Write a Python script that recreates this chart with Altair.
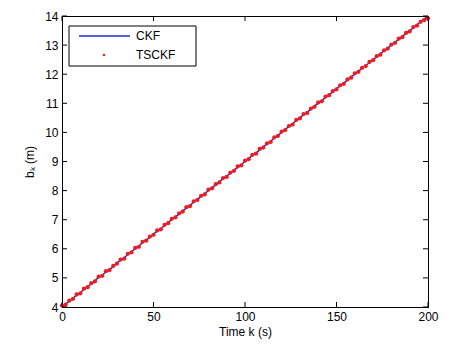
import altair as alt
import pandas as pd

k = list(range(0, 201, 2))
ckf = [4.02, 4.11, 4.19, 4.31, 4.40, 4.49, 4.61, 4.70, 4.79, 4.91,
       5.01, 5.09, 5.21, 5.30, 5.38, 5.52, 5.60, 5.69, 5.81, 5.90,
       6.01, 6.09, 6.22, 6.30, 6.39, 6.51, 6.61, 6.69, 6.80, 6.91,
       7.00, 7.11, 7.19, 7.31, 7.40, 7.49, 7.61, 7.70, 7.80, 7.89,
       8.01, 8.11, 8.19, 8.30, 8.41, 8.50, 8.59, 8.71, 8.80, 8.89,
       9.01, 9.10, 9.21, 9.29, 9.40, 9.51, 9.60, 9.69, 9.81, 9.90,
       10.00, 10.11, 10.20, 10.29, 10.41, 10.50, 10.61, 10.69, 10.80, 10.91,
       11.00, 11.09, 11.21, 11.30, 11.39, 11.51, 11.60, 11.70, 11.79, 11.91,
       12.00, 12.10, 12.21, 12.29, 12.40, 12.50, 12.59, 12.71, 12.80, 12.89,
       13.01, 13.10, 13.20, 13.29, 13.41, 13.50, 13.59, 13.70, 13.81, 13.90,
       14.00]
tsckf = [4.05, 4.08, 4.22, 4.28, 4.43, 4.47, 4.63, 4.68, 4.82, 4.88,
         5.04, 5.07, 5.23, 5.27, 5.41, 5.49, 5.63, 5.66, 5.83, 5.88,
         6.03, 6.07, 6.24, 6.28, 6.42, 6.48, 6.63, 6.67, 6.82, 6.88,
         7.03, 7.08, 7.22, 7.28, 7.43, 7.47, 7.63, 7.68, 7.82, 7.87,
         8.03, 8.08, 8.22, 8.28, 8.43, 8.47, 8.62, 8.68, 8.83, 8.87,
         9.03, 9.08, 9.23, 9.27, 9.43, 9.48, 9.62, 9.67, 9.83, 9.88,
         10.03, 10.08, 10.22, 10.27, 10.43, 10.48, 10.63, 10.67, 10.82, 10.88,
         11.03, 11.07, 11.23, 11.28, 11.42, 11.48, 11.62, 11.67, 11.82, 11.88,
         12.03, 12.08, 12.22, 12.28, 12.42, 12.48, 12.62, 12.67, 12.82, 12.88,
         13.02, 13.08, 13.22, 13.27, 13.42, 13.47, 13.62, 13.67, 13.80, 13.86,
         13.92]
x_ticks = [0, 50, 100, 150, 200]
y_ticks = list(range(4, 15))
legend_labels = ["CKF", "TSCKF"]

BLUE = "#1f2fc0"
RED = "#ec1c24"
FONT = "Liberation Sans"
W, H = 366, 291

df = pd.DataFrame({"k": k, "CKF": ckf, "TSCKF": tsckf})
xs = alt.Scale(domain=[0, 200], nice=False, zero=False)
ys = alt.Scale(domain=[4, 14], nice=False, zero=False)
xax = alt.Axis(values=x_ticks, tickSize=0, grid=False, labelPadding=4,
               labelFlush=False, labelOverlap=False,
               title="Time k (s)", titlePadding=4, labelFontSize=12,
               titleFontSize=12, titleFontWeight="normal", domainColor="black",
               labelColor="black", titleColor="black")
yax = alt.Axis(values=y_ticks, tickSize=0, grid=False, labelPadding=4,
               labelFlush=False, labelOverlap=False,
               title="bₖ (m)", titlePadding=8, labelFontSize=12,
               titleFontSize=12, titleFontWeight="normal", domainColor="black",
               labelColor="black", titleColor="black")

X = lambda f: alt.X(f, scale=xs, axis=xax)
Y = lambda f: alt.Y(f, scale=ys, axis=yax)

line = alt.Chart(df).mark_line(color=BLUE, strokeWidth=1.5).encode(
    x=X("k:Q"), y=Y("CKF:Q"))
pts = alt.Chart(df).mark_circle(color=RED, size=18, opacity=1).encode(
    x=X("k:Q"), y=Y("TSCKF:Q"))

xt = pd.DataFrame({"t": x_ticks})
yt = pd.DataFrame({"t": y_ticks})
tb = alt.Chart(xt).mark_rule(color="black").encode(x=X("t:Q"), y=alt.value(H), y2=alt.value(H - 5))
tt = alt.Chart(xt).mark_rule(color="black").encode(x=X("t:Q"), y=alt.value(0), y2=alt.value(5))
tl = alt.Chart(yt).mark_rule(color="black").encode(y=Y("t:Q"), x=alt.value(0), x2=alt.value(5))
tr = alt.Chart(yt).mark_rule(color="black").encode(y=Y("t:Q"), x=alt.value(W), x2=alt.value(W - 5))

one = pd.DataFrame({"a": [0]})
box = alt.Chart(one).mark_rect(fill="white", stroke="black", strokeWidth=1).encode(
    x=alt.value(7), x2=alt.value(134), y=alt.value(10), y2=alt.value(50))
lg_line = alt.Chart(one).mark_rule(color=BLUE, strokeWidth=1.6).encode(
    x=alt.value(17), x2=alt.value(68), y=alt.value(20))
lg_dot = alt.Chart(one).mark_circle(color=RED, size=7, opacity=1).encode(
    x=alt.value(42), y=alt.value(39))
lg_t1 = alt.Chart(pd.DataFrame({"lab": [legend_labels[0]]})).mark_text(
    align="left", baseline="middle", font=FONT, fontSize=12, color="black").encode(
    x=alt.value(74), y=alt.value(20), text="lab:N")
lg_t2 = alt.Chart(pd.DataFrame({"lab": [legend_labels[1]]})).mark_text(
    align="left", baseline="middle", font=FONT, fontSize=12, color="black").encode(
    x=alt.value(74), y=alt.value(39), text="lab:N")

chart = alt.layer(line, pts, tb, tt, tl, tr, box, lg_line, lg_dot, lg_t1, lg_t2).properties(
    width=W, height=H,
    autosize=alt.AutoSizeParams(type="none"),
    padding={"left": 62, "top": 16, "right": 26, "bottom": 38},
    background="white",
).configure_view(stroke="black", strokeWidth=1).configure_axis(
    labelFont=FONT, titleFont=FONT)

chart.save("out.html", embed_options={"renderer": "svg", "actions": False})
